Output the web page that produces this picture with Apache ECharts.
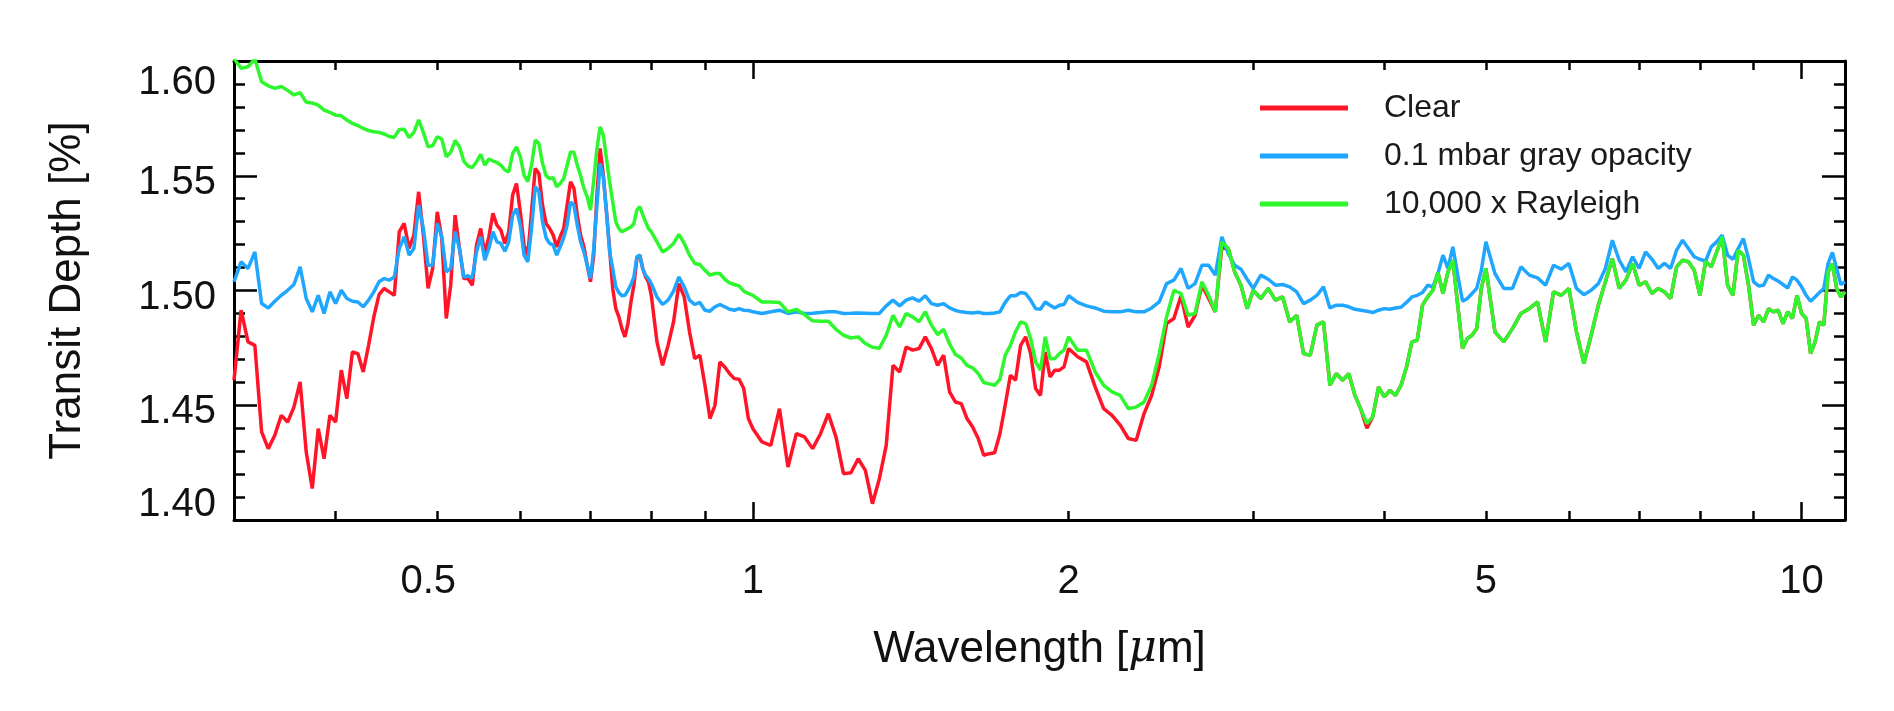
<!DOCTYPE html>
<html>
<head>
<meta charset="utf-8">
<title>Transit depth spectra</title>
<script src="https://cdn.jsdelivr.net/npm/echarts@6/dist/echarts.min.js"></script>
<style>
html, body { margin: 0; padding: 0; background: #fff; }
#chart { width: 1894px; height: 711px; }
</style>
</head>
<body>
<div id="chart"></div>
<script>
// wavelength grid [micron]
const wavelength = [
  0.32, 0.325, 0.33, 0.335, 0.34, 0.345, 0.35, 0.355, 0.36, 0.365, 0.37, 0.375, 0.38, 0.385, 0.39, 0.395,
  0.4, 0.405, 0.41, 0.415, 0.42, 0.425, 0.43, 0.435, 0.44, 0.445, 0.45, 0.455, 0.46, 0.465, 0.47, 0.475,
  0.48, 0.485, 0.49, 0.495, 0.5, 0.505, 0.51, 0.515, 0.52, 0.525, 0.53, 0.535, 0.54, 0.545, 0.55, 0.555,
  0.56, 0.565, 0.57, 0.575, 0.58, 0.585, 0.59, 0.595, 0.6, 0.605, 0.61, 0.615, 0.62, 0.625, 0.63, 0.635,
  0.64, 0.645, 0.65, 0.655, 0.66, 0.665, 0.67, 0.675, 0.68, 0.685, 0.69, 0.695, 0.7, 0.705, 0.71, 0.715,
  0.72, 0.725, 0.73, 0.735, 0.74, 0.745, 0.75, 0.755, 0.76, 0.765, 0.77, 0.775, 0.78, 0.785, 0.79, 0.795, 0.8,
  0.81, 0.82, 0.83, 0.84, 0.85, 0.86, 0.87, 0.88, 0.89, 0.9, 0.91, 0.92, 0.93, 0.94, 0.95, 0.96, 0.97, 0.98, 0.99, 1.0,
  1.02, 1.04, 1.06, 1.08, 1.1, 1.12, 1.14, 1.16, 1.18, 1.2, 1.22, 1.24, 1.26, 1.28, 1.3, 1.32, 1.34, 1.36, 1.38, 1.4,
  1.42, 1.44, 1.46, 1.48, 1.5, 1.52, 1.54, 1.56, 1.58, 1.6, 1.62, 1.64, 1.66, 1.68, 1.7, 1.72, 1.74, 1.76, 1.78, 1.8,
  1.82, 1.84, 1.86, 1.88, 1.9, 1.92, 1.94, 1.96, 1.98, 2.0,
  2.04, 2.08, 2.12, 2.16, 2.2, 2.24, 2.28, 2.32, 2.36, 2.4, 2.44, 2.48, 2.52, 2.56, 2.6, 2.64, 2.68, 2.72, 2.76, 2.8,
  2.84, 2.88, 2.92, 2.96, 3.0,
  3.05, 3.1, 3.15, 3.2, 3.25, 3.3, 3.35, 3.4, 3.45, 3.5, 3.55, 3.6, 3.65, 3.7, 3.75, 3.8, 3.85, 3.9, 3.95, 4.0,
  4.05, 4.1, 4.15, 4.2, 4.25, 4.3, 4.35, 4.4, 4.45, 4.5, 4.55, 4.6, 4.65, 4.7, 4.75, 4.8, 4.85, 4.9, 4.95, 5.0,
  5.1, 5.2, 5.3, 5.4, 5.5, 5.6, 5.7, 5.8, 5.9, 6.0, 6.1, 6.2, 6.3, 6.4, 6.5, 6.6, 6.7, 6.8, 6.9, 7.0,
  7.1, 7.2, 7.3, 7.4, 7.5, 7.6, 7.7, 7.8, 7.9, 8.0, 8.1, 8.2, 8.3, 8.4, 8.5, 8.6, 8.7, 8.8, 8.9, 9.0,
  9.1, 9.2, 9.3, 9.4, 9.5, 9.6, 9.7, 9.8, 9.9, 10.0, 10.1, 10.2, 10.3, 10.4, 10.5, 10.6, 10.7, 10.8, 10.9, 11.0
];

// transit depth [%], clear atmosphere
const clear = [
  1.4609, 1.4914, 1.4776, 1.4761, 1.4384, 1.4311, 1.4369, 1.4456, 1.4427, 1.4492,
  1.4602, 1.4296, 1.4137, 1.4398, 1.4267, 1.4456, 1.4427, 1.4653, 1.4529, 1.4732,
  1.4725, 1.4645, 1.4761, 1.4885, 1.4982, 1.5009, 1.4994, 1.4979, 1.5256, 1.5292,
  1.5183, 1.5241, 1.5430, 1.5241, 1.5009, 1.5096, 1.5343, 1.5227, 1.4878, 1.5023,
  1.5328, 1.5183, 1.5052, 1.5052, 1.5023, 1.5198, 1.5270, 1.5161, 1.5234, 1.5336,
  1.5285, 1.5263, 1.5205, 1.5256, 1.5416, 1.5466, 1.5343, 1.5198, 1.5154, 1.5343,
  1.5532, 1.5510, 1.5372, 1.5292, 1.5270, 1.5241, 1.5190, 1.5234, 1.5270, 1.5372,
  1.5474, 1.5445, 1.5328, 1.5241, 1.5190, 1.5110, 1.5038, 1.5154, 1.5416, 1.5619,
  1.5503, 1.5343, 1.5183, 1.5009, 1.4921, 1.4885, 1.4834, 1.4798, 1.4856, 1.4950,
  1.5023, 1.5139, 1.5154, 1.5096, 1.5059, 1.5038, 1.4979,
  1.4776, 1.4674, 1.4761, 1.4863, 1.5030, 1.4972, 1.4820, 1.4703, 1.4718, 1.4587,
  1.4442, 1.4500, 1.4689, 1.4667, 1.4638, 1.4616, 1.4613, 1.4573, 1.4442, 1.4398,
  1.4340, 1.4325, 1.4485, 1.4231, 1.4376, 1.4362, 1.4311, 1.4376, 1.4463, 1.4362,
  1.4202, 1.4206, 1.4267, 1.4216, 1.4071, 1.4180, 1.4325, 1.4674, 1.4645, 1.4754,
  1.4740, 1.4747, 1.4798, 1.4747, 1.4674, 1.4718, 1.4558, 1.4514, 1.4507, 1.4442,
  1.4405, 1.4355, 1.4282, 1.4289, 1.4293, 1.4376, 1.4500, 1.4631, 1.4609, 1.4761,
  1.4798, 1.4725, 1.4573, 1.4543, 1.4732, 1.4623, 1.4653, 1.4653, 1.4667, 1.4747,
  1.4711, 1.4689, 1.4580, 1.4485, 1.4456, 1.4413, 1.4355, 1.4347, 1.4463, 1.4543,
  1.4667, 1.4856, 1.4878, 1.4977, 1.4841, 1.4892, 1.5023, 1.4965, 1.4907, 1.5190,
  1.5183, 1.5081, 1.5023, 1.4921, 1.5001,
  1.4965, 1.5009, 1.4958, 1.4972, 1.4863, 1.4892, 1.4725, 1.4718, 1.4849, 1.4863,
  1.4587, 1.4638, 1.4609, 1.4638, 1.4543, 1.4482, 1.4400, 1.4450, 1.4580, 1.4536,
  1.4565, 1.4543, 1.4587, 1.4667, 1.4776, 1.4783, 1.4936, 1.4972, 1.5001, 1.5078,
  1.4987, 1.5081, 1.5132, 1.4936, 1.4747, 1.4791, 1.4805, 1.4834, 1.5009, 1.5096,
  1.4820, 1.4776, 1.4834, 1.4900, 1.4921, 1.4950, 1.4776, 1.4994, 1.4979, 1.5009,
  1.4820, 1.4682, 1.4805, 1.4936, 1.5038, 1.5139, 1.5009, 1.5045, 1.5118, 1.5023,
  1.5038, 1.4987, 1.5009, 1.4994, 1.4965, 1.5103, 1.5132, 1.5125, 1.5088, 1.4979,
  1.5128, 1.5103, 1.5168, 1.5234, 1.5023, 1.4979, 1.5176, 1.5154, 1.5023, 1.4849,
  1.4892, 1.4863, 1.4921, 1.4907, 1.4914, 1.4856, 1.4907, 1.4878, 1.4979, 1.4900,
  1.4878, 1.4725, 1.4776, 1.4863, 1.4849, 1.5081, 1.5118, 1.5009, 1.4972, 1.4994
];

// transit depth [%], 0.1 mbar gray opacity
const grayOpacity = [
  1.5038, 1.5125, 1.5096, 1.5168, 1.4943, 1.4924, 1.4953, 1.4979, 1.5001, 1.5026,
  1.5103, 1.4965, 1.4907, 1.4979, 1.4900, 1.4994, 1.4943, 1.5001, 1.4965, 1.4953,
  1.4950, 1.4929, 1.4958, 1.4994, 1.5038, 1.5052, 1.5045, 1.5059, 1.5183, 1.5234,
  1.5154, 1.5183, 1.5372, 1.5270, 1.5110, 1.5110, 1.5292, 1.5234, 1.5081, 1.5096,
  1.5256, 1.5183, 1.5059, 1.5064, 1.5055, 1.5168, 1.5234, 1.5132, 1.5183, 1.5256,
  1.5212, 1.5205, 1.5171, 1.5212, 1.5328, 1.5357, 1.5285, 1.5154, 1.5125, 1.5270,
  1.5452, 1.5430, 1.5299, 1.5229, 1.5205, 1.5198, 1.5154, 1.5190, 1.5229, 1.5285,
  1.5386, 1.5372, 1.5285, 1.5212, 1.5168, 1.5110, 1.5052, 1.5183, 1.5372, 1.5554,
  1.5495, 1.5343, 1.5168, 1.5096, 1.5016, 1.4991, 1.4977, 1.4979, 1.5001, 1.5026,
  1.5059, 1.5147, 1.5154, 1.5096, 1.5067, 1.5052, 1.5030,
  1.4972, 1.4939, 1.4958, 1.4997, 1.5059, 1.5016, 1.4958, 1.4939, 1.4948, 1.4914,
  1.4910, 1.4929, 1.4939, 1.4929, 1.4918, 1.4914, 1.4921, 1.4914, 1.4913, 1.4907,
  1.4900, 1.4907, 1.4914, 1.4900, 1.4907, 1.4900, 1.4901, 1.4904, 1.4907, 1.4907,
  1.4900, 1.4901, 1.4902, 1.4901, 1.4900, 1.4900, 1.4933, 1.4958, 1.4933, 1.4958,
  1.4968, 1.4953, 1.4977, 1.4943, 1.4936, 1.4943, 1.4924, 1.4913, 1.4907, 1.4904,
  1.4902, 1.4905, 1.4900, 1.4900, 1.4902, 1.4907, 1.4948, 1.4977, 1.4977, 1.4991,
  1.4987, 1.4958, 1.4921, 1.4918, 1.4950, 1.4936, 1.4924, 1.4936, 1.4939, 1.4977,
  1.4948, 1.4933, 1.4924, 1.4910, 1.4907, 1.4907, 1.4914, 1.4907, 1.4907, 1.4924,
  1.4950, 1.5030, 1.5045, 1.5096, 1.5009, 1.5030, 1.5110, 1.5110, 1.5067, 1.5234,
  1.5161, 1.5110, 1.5093, 1.5049, 1.5009,
  1.5067, 1.5049, 1.5023, 1.5026, 1.5016, 1.4994, 1.4943, 1.4958, 1.4979, 1.5016,
  1.4924, 1.4936, 1.4936, 1.4929, 1.4918, 1.4914, 1.4910, 1.4904, 1.4914, 1.4921,
  1.4918, 1.4924, 1.4927, 1.4948, 1.4972, 1.4979, 1.4991, 1.5023, 1.5016, 1.5074,
  1.5154, 1.5096, 1.5190, 1.5067, 1.4953, 1.4965, 1.4987, 1.5009, 1.5088, 1.5212,
  1.5074, 1.5009, 1.5009, 1.5103, 1.5067, 1.5055, 1.5023, 1.5110, 1.5093, 1.5118,
  1.5009, 1.4982, 1.5001, 1.5030, 1.5096, 1.5219, 1.5132, 1.5081, 1.5147, 1.5096,
  1.5168, 1.5136, 1.5096, 1.5118, 1.5096, 1.5176, 1.5219, 1.5183, 1.5147, 1.5136,
  1.5128, 1.5190, 1.5212, 1.5241, 1.5154, 1.5136, 1.5183, 1.5226, 1.5139, 1.5038,
  1.5020, 1.5023, 1.5067, 1.5052, 1.5041, 1.5026, 1.5011, 1.5059, 1.5045, 1.5016,
  1.4979, 1.4953, 1.4972, 1.4991, 1.5009, 1.5118, 1.5166, 1.5096, 1.5026, 1.5038
];

// transit depth [%], 10,000 x Rayleigh scattering
const rayleigh = [
  1.6011, 1.5968, 1.5975, 1.6009, 1.5910, 1.5892, 1.5881, 1.5889, 1.5872, 1.5852,
  1.5862, 1.5820, 1.5817, 1.5808, 1.5786, 1.5776, 1.5764, 1.5761, 1.5743, 1.5728,
  1.5719, 1.5706, 1.5697, 1.5692, 1.5689, 1.5682, 1.5671, 1.5667, 1.5702, 1.5703,
  1.5666, 1.5689, 1.5743, 1.5689, 1.5626, 1.5631, 1.5670, 1.5660, 1.5583, 1.5602,
  1.5654, 1.5626, 1.5564, 1.5542, 1.5536, 1.5561, 1.5593, 1.5546, 1.5573, 1.5564,
  1.5558, 1.5546, 1.5525, 1.5517, 1.5597, 1.5626, 1.5583, 1.5503, 1.5474, 1.5546,
  1.5655, 1.5641, 1.5554, 1.5500, 1.5488, 1.5491, 1.5452, 1.5466, 1.5488, 1.5546,
  1.5604, 1.5602, 1.5546, 1.5500, 1.5445, 1.5408, 1.5350, 1.5481, 1.5619, 1.5713,
  1.5677, 1.5575, 1.5474, 1.5386, 1.5299, 1.5270, 1.5256, 1.5263, 1.5270, 1.5277,
  1.5292, 1.5350, 1.5365, 1.5331, 1.5299, 1.5270, 1.5256,
  1.5212, 1.5168, 1.5183, 1.5205, 1.5245, 1.5205, 1.5154, 1.5118, 1.5113, 1.5088,
  1.5067, 1.5074, 1.5074, 1.5049, 1.5033, 1.5026, 1.5020, 1.4997, 1.4987, 1.4979,
  1.4950, 1.4950, 1.4948, 1.4907, 1.4918, 1.4895, 1.4868, 1.4866, 1.4866, 1.4831,
  1.4805, 1.4793, 1.4798, 1.4769, 1.4753, 1.4748, 1.4805, 1.4892, 1.4841, 1.4900,
  1.4885, 1.4863, 1.4907, 1.4849, 1.4808, 1.4831, 1.4767, 1.4721, 1.4706, 1.4674,
  1.4663, 1.4638, 1.4599, 1.4593, 1.4587, 1.4613, 1.4718, 1.4761, 1.4820, 1.4863,
  1.4856, 1.4791, 1.4689, 1.4653, 1.4798, 1.4703, 1.4703, 1.4725, 1.4740, 1.4798,
  1.4740, 1.4740, 1.4645, 1.4587, 1.4558, 1.4543, 1.4485, 1.4492, 1.4514, 1.4587,
  1.4725, 1.4885, 1.5001, 1.4987, 1.4892, 1.4900, 1.5038, 1.4979, 1.4907, 1.5212,
  1.5183, 1.5081, 1.5023, 1.4921, 1.5001,
  1.4965, 1.5009, 1.4958, 1.4972, 1.4863, 1.4892, 1.4725, 1.4718, 1.4849, 1.4863,
  1.4587, 1.4638, 1.4609, 1.4638, 1.4543, 1.4482, 1.4420, 1.4450, 1.4580, 1.4536,
  1.4565, 1.4543, 1.4587, 1.4667, 1.4776, 1.4783, 1.4936, 1.4972, 1.5001, 1.5078,
  1.4987, 1.5081, 1.5132, 1.4936, 1.4747, 1.4791, 1.4805, 1.4834, 1.5009, 1.5096,
  1.4820, 1.4776, 1.4834, 1.4900, 1.4921, 1.4950, 1.4776, 1.4994, 1.4979, 1.5009,
  1.4820, 1.4682, 1.4805, 1.4936, 1.5038, 1.5139, 1.5009, 1.5045, 1.5118, 1.5023,
  1.5038, 1.4987, 1.5009, 1.4994, 1.4965, 1.5103, 1.5132, 1.5125, 1.5088, 1.4979,
  1.5128, 1.5103, 1.5168, 1.5234, 1.5023, 1.4979, 1.5176, 1.5154, 1.5023, 1.4849,
  1.4892, 1.4863, 1.4921, 1.4907, 1.4914, 1.4856, 1.4907, 1.4878, 1.4979, 1.4900,
  1.4878, 1.4725, 1.4776, 1.4863, 1.4849, 1.5081, 1.5118, 1.5009, 1.4972, 1.4994
];

const seriesNames = ['Clear', '0.1 mbar gray opacity', '10,000 x Rayleigh'];
const seriesColors = ['#ff1428', '#1fa6ff', '#2ef72e'];

const xLabelTicks = [0.5, 1, 2, 5, 10];
const xMinorTicks = [0.4, 0.5, 0.6, 0.7, 0.8, 0.9, 2, 3, 4, 5, 6, 7, 8, 9];
const xMajorTicks = [1, 10];

const FONT = '"Liberation Sans", Arial, Helvetica, sans-serif';
const INK = '#111';

function pairs(ys) {
  return wavelength.map((w, i) => [w, ys[i]]);
}

function xAxisPart(position, ticks, len, withLine) {
  return {
    type: 'log',
    logBase: 10,
    min: 0.32,
    max: 11,
    position: position,
    axisLine: { show: withLine, onZero: false, lineStyle: { color: '#000', width: 3 } },
    axisTick: { show: true, inside: true, length: len, customValues: ticks,
                lineStyle: { color: '#000', width: 2.5 } },
    axisLabel: { show: false },
    splitLine: { show: false }
  };
}

const bottomAxis = xAxisPart('bottom', xMinorTicks, 9, true);
bottomAxis.axisLabel = {
  show: true,
  customValues: xLabelTicks,
  margin: 42,
  formatter: function (v) {
    const s = String(+Number(v).toPrecision(3));
    return Math.abs(v - 0.5) < 1e-6 ? '{l|' + s + '}' : '{n|' + s + '}';
  },
  rich: {
    l: { fontSize: 40, fontFamily: FONT, color: INK, padding: [0, 18, 0, 0] },
    n: { fontSize: 40, fontFamily: FONT, color: INK }
  }
};
bottomAxis.name = 'Wavelength [{m|μ}m]';
bottomAxis.nameLocation = 'middle';
bottomAxis.nameGap = 108;
bottomAxis.nameTextStyle = {
  fontSize: 44, fontFamily: FONT, color: INK,
  rich: { m: { fontSize: 44, fontFamily: '"DejaVu Serif", serif', fontStyle: 'italic', color: INK } }
};

function yAxisPart(position, withLabels) {
  const ax = {
    type: 'value',
    min: 1.40,
    max: 1.60,
    interval: 0.05,
    position: position,
    axisLine: { show: true, onZero: false, lineStyle: { color: '#000', width: 3 } },
    axisTick: { show: true, inside: true, length: 23, lineStyle: { color: '#000', width: 2.5 } },
    minorTick: { show: true, splitNumber: 5, length: 11, lineStyle: { color: '#000', width: 2.5 } },
    splitLine: { show: false },
    minorSplitLine: { show: false },
    axisLabel: { show: false }
  };
  if (withLabels) {
    ax.axisLabel = {
      show: true,
      margin: 18,
      formatter: function (v) {
        const s = v.toFixed(2);
        if (v > 1.595) return '{t|' + s + '}';
        if (v < 1.405) return '{b|' + s + '}';
        return '{m|' + s + '}';
      },
      rich: {
        t: { fontSize: 40, fontFamily: FONT, color: INK, padding: [44, 0, 0, 0] },
        m: { fontSize: 40, fontFamily: FONT, color: INK, padding: [14, 0, 0, 0] },
        b: { fontSize: 40, fontFamily: FONT, color: INK, padding: [0, 0, 30, 0] }
      }
    };
    ax.name = 'Transit Depth [%]';
    ax.nameLocation = 'middle';
    ax.nameGap = 144;
    ax.nameTextStyle = { fontSize: 44, fontFamily: FONT, color: INK };
  }
  return ax;
}

const chart = echarts.init(document.getElementById('chart'));

const option = {
  animation: false,
  backgroundColor: '#fff',
  grid: { left: 234, right: 49, top: 61, bottom: 191, containLabel: false },
  legend: {
    orient: 'vertical',
    left: 1260,
    top: 92,
    padding: 0,
    icon: 'rect',
    itemWidth: 88,
    itemHeight: 5,
    itemGap: 16,
    selectedMode: false,
    textStyle: { fontSize: 32, fontFamily: FONT, color: '#1a1a1a', lineHeight: 30, padding: [0, 0, 0, 31] },
    data: seriesNames
  },
  xAxis: [
    bottomAxis,
    xAxisPart('bottom', xMajorTicks, 18, false),
    xAxisPart('top', xMinorTicks, 9, true),
    xAxisPart('top', xMajorTicks, 18, false)
  ],
  yAxis: [yAxisPart('left', true), yAxisPart('right', false)],
  series: [clear, grayOpacity, rayleigh].map(function (ys, i) {
    return {
      name: seriesNames[i],
      type: 'line',
      xAxisIndex: 0,
      yAxisIndex: 0,
      data: pairs(ys),
      showSymbol: false,
      symbol: 'none',
      clip: true,
      lineStyle: { color: seriesColors[i], width: 3.5 },
      itemStyle: { color: seriesColors[i] }
    };
  })
};

chart.setOption(option);
</script>
</body>
</html>
